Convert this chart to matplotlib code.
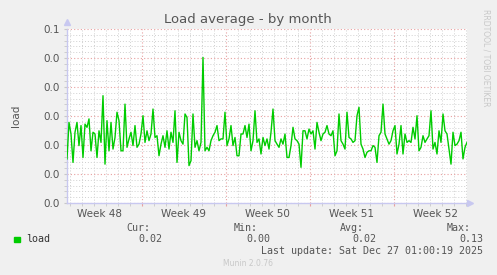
import datetime as dt
import matplotlib
matplotlib.use("Agg")
import matplotlib.pyplot as plt
import matplotlib.dates as mdates
from matplotlib.ticker import MultipleLocator, FormatStrFormatter

# 4-hour averages of the load
load = [
    0.0152, 0.0278, 0.0238, 0.0140, 0.0244, 0.0278, 0.0198, 0.0267, 0.0157, 0.0272, 0.0261,
    0.0290, 0.0180, 0.0244, 0.0238, 0.0157, 0.0249, 0.0209, 0.0370, 0.0134, 0.0284, 0.0180,
    0.0278, 0.0186, 0.0226, 0.0313, 0.0284, 0.0180, 0.0180, 0.0341, 0.0192, 0.0221,
    0.0244, 0.0198, 0.0267, 0.0192, 0.0203, 0.0238, 0.0301, 0.0209, 0.0249, 0.0215, 0.0238,
    0.0324, 0.0226, 0.0232, 0.0163, 0.0203, 0.0232, 0.0192, 0.0249, 0.0186, 0.0244, 0.0209,
    0.0318, 0.0140, 0.0244, 0.0215, 0.0203, 0.0307, 0.0295, 0.0129, 0.0146, 0.0307, 0.0192, 0.0215,
    0.0180, 0.0209, 0.0502, 0.0180, 0.0192, 0.0180, 0.0215, 0.0232, 0.0244, 0.0267, 0.0215,
    0.0221, 0.0221, 0.0313, 0.0198, 0.0221, 0.0267, 0.0198, 0.0226, 0.0163, 0.0163, 0.0238,
    0.0238, 0.0267, 0.0226, 0.0272, 0.0180, 0.0215, 0.0318, 0.0209, 0.0221, 0.0169, 0.0226, 0.0198,
    0.0221, 0.0186, 0.0244, 0.0324, 0.0215, 0.0203, 0.0192, 0.0221, 0.0203, 0.0238, 0.0157,
    0.0157, 0.0198, 0.0261, 0.0221, 0.0215, 0.0203, 0.0123, 0.0249, 0.0249, 0.0221, 0.0255,
    0.0238, 0.0249, 0.0186, 0.0278, 0.0244, 0.0215, 0.0238, 0.0244, 0.0267, 0.0238, 0.0232, 0.0249,
    0.0163, 0.0180, 0.0307, 0.0215, 0.0203, 0.0186, 0.0313, 0.0226, 0.0221, 0.0209, 0.0215,
    0.0301, 0.0330, 0.0203, 0.0186, 0.0157, 0.0175, 0.0180, 0.0180, 0.0198, 0.0192, 0.0140,
    0.0232, 0.0244, 0.0341, 0.0238, 0.0221, 0.0203, 0.0215, 0.0249, 0.0267, 0.0169, 0.0203, 0.0267,
    0.0169, 0.0238, 0.0209, 0.0215, 0.0209, 0.0261, 0.0221, 0.0301, 0.0180, 0.0192, 0.0232,
    0.0209, 0.0221, 0.0232, 0.0318, 0.0186, 0.0209, 0.0169, 0.0249, 0.0209, 0.0307, 0.0249,
    0.0238, 0.0186, 0.0134, 0.0244, 0.0198, 0.0203, 0.0215, 0.0244, 0.0152, 0.0192, 0.0209,
]
start = dt.datetime(2025, 11, 23, 18, 30)
step = dt.timedelta(hours=4)
times = [start + i * step for i in range(len(load))]

stat_names = ["Cur:", "Min:", "Avg:", "Max:"]
stat_values = ["0.02", "0.00", "0.02", "0.13"]
last_update = "Last update: Sat Dec 27 01:00:19 2025"

W, H = 497, 275
fig = plt.figure(figsize=(W / 100, H / 100), dpi=100, facecolor="#F0F0F0")
ax = fig.add_axes([67 / W, (H - 203) / H, 400 / W, 174 / H], facecolor="white")

ax.plot(times, load, color="#00CC00", lw=1.0, zorder=3)

ax.set_xlim(start, start + dt.timedelta(hours=800))
ax.set_ylim(0, 0.06)

# grid like rrdtool: grey minor, red major, dotted
ax.yaxis.set_major_locator(MultipleLocator(0.01))
ax.yaxis.set_minor_locator(MultipleLocator(0.002))
ax.yaxis.set_major_formatter(FormatStrFormatter("%.1f"))
ax.xaxis.set_major_locator(mdates.WeekdayLocator(byweekday=mdates.SU))
ax.xaxis.set_minor_locator(mdates.DayLocator())
ax.xaxis.set_major_formatter(plt.NullFormatter())
ax.grid(which="minor", color="#D0D0D0", ls=(0, (1, 2)), lw=0.7, zorder=1)
ax.grid(which="major", color="#E8A0A0", ls=(0, (1, 2)), lw=0.8, zorder=2)

ax.tick_params(axis="y", which="both", length=2, color="#C8C8C8", labelsize=7.5,
               labelcolor="#555555", pad=3)
ax.tick_params(axis="x", which="both", length=2, color="#C8C8C8", labelsize=7.5)
ax.tick_params(axis="x", which="major", color="#E8A0A0")

for s in ["top", "right"]:
    ax.spines[s].set_visible(False)
for s in ["left", "bottom"]:
    ax.spines[s].set_color("#C8C8F0")
    ax.spines[s].set_linewidth(1.0)
ax.plot([0], [1.04], marker="^", ms=4, color="#C8C8F0", transform=ax.transAxes, clip_on=False)
ax.plot([1.008], [0], marker=">", ms=4, color="#C8C8F0", transform=ax.transAxes, clip_on=False)

# week labels sit mid-week
wk = mdates.WeekdayLocator(byweekday=mdates.WE)
for d in wk.tick_values(start, start + dt.timedelta(hours=800)):
    t = mdates.num2date(d).replace(tzinfo=None) + dt.timedelta(hours=12)
    if start < t < start + dt.timedelta(hours=800):
        ax.text(t, -0.035, t.strftime("Week %V"), transform=ax.get_xaxis_transform(),
                ha="center", va="top", fontsize=7.5, color="#555555")

ax.set_ylabel("load", fontsize=7.5, color="#555555", labelpad=16)

fig.text(248 / W, 1 - 20 / H, "Load average - by month", ha="center", va="center",
         fontsize=9.5, color="#555555")
fig.text(486 / W, 1 - 58 / H, "RRDTOOL / TOBI OETIKER", rotation=270, ha="center",
         va="center", fontsize=5.5, color="#C8C8C8")

mono = "DejaVu Sans Mono"
fig.patches.append(plt.Rectangle((14 / W, 1 - 242 / H), 6 / W, 5 / H, color="#00CC00",
                                 transform=fig.transFigure))
fig.text(26 / W, 1 - 239.5 / H, "load", ha="left", va="center", family=mono,
         fontsize=7.2, color="#333333")
name_x = [150, 258, 364, 471]
for nx, nm, val in zip(name_x, stat_names, stat_values):
    fig.text(nx / W, 1 - 228 / H, nm, ha="right", va="center", family=mono,
             fontsize=7.2, color="#555555")
    fig.text((nx + 12) / W, 1 - 239.5 / H, val, ha="right", va="center", family=mono,
             fontsize=7.2, color="#555555")
fig.text(483 / W, 1 - 251 / H, last_update, ha="right", va="center", family=mono,
         fontsize=7.2, color="#555555")
fig.text(248 / W, 1 - 264 / H, "Munin 2.0.76", ha="center", va="center",
         fontsize=5.5, color="#C8C8C8")

fig.savefig("out.png", dpi=100, facecolor=fig.get_facecolor())
